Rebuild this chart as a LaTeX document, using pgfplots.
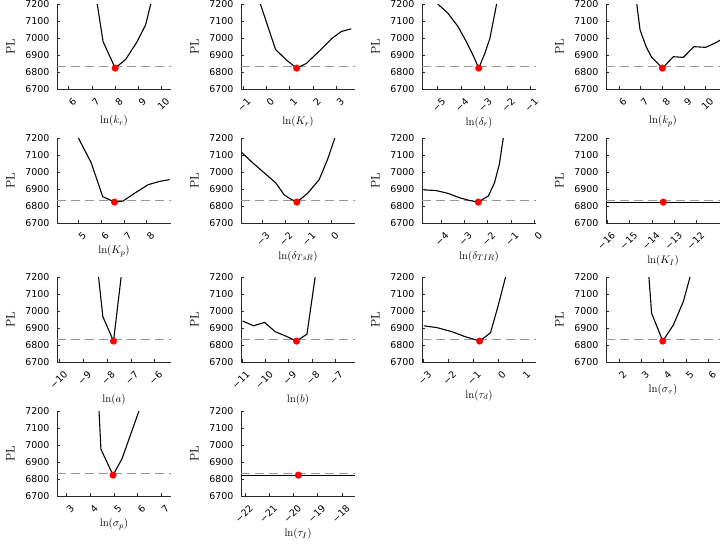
\documentclass[border=0pt]{standalone}
\usepackage{fontspec}
\newfontfamily\dejavu{DejaVu Sans}
\usepackage{pgfplots}
\pgfplotsset{compat=1.18}
\definecolor{dashgray}{RGB}{150,150,150}
\definecolor{axgray}{RGB}{40,40,40}
\pgfplotsset{
  pl/.style={
    anchor=south west,
    width=114bp, height=85bp, scale only axis,
    axis x line=bottom, axis y line=left,
    axis line style={-, axgray, line width=0.8pt},
    ymin=6700, ymax=7200, ytick={6700,6800,...,7200},
    tick align=inside, major tick length=3bp,
    tick style={axgray, line width=0.6pt},
    /pgf/number format/assume math mode=true,
    /pgf/number format/set thousands separator={},
    yticklabel style={font=\fontsize{9.5}{11}\dejavu, xshift=-4bp},
    xticklabel style={xshift=3.5bp, yshift=-6bp, rotate=45, anchor=north east, font=\fontsize{9.5}{11}\dejavu, inner sep=1.5pt},
    ylabel={$\mathrm{PL}$},
    ylabel style={font=\fontsize{12.5}{14}\selectfont},
    ylabel shift=4pt,
    xlabel style={font=\fontsize{11}{13}\selectfont, yshift=1pt},
    clip=true,
  },
  dl/.style={dashgray, line width=0.8pt, dash pattern=on 9bp off 5bp, forget plot},
  cl/.style={black, line width=1.1pt, forget plot},
  dt/.style={only marks, mark=*, mark size=3.3bp, red, mark options={draw=red, fill=red}, forget plot},
}
\begin{document}
\begin{tikzpicture}
\path[use as bounding box] (0bp,0bp) rectangle (720bp,-544bp);
% Row 1
\begin{axis}[pl, at={(57bp,-89bp)}, xmin=5.5, xmax=10.4, xtick={6,7,8,9,10}, xlabel={$\ln(k_r)$}]
\addplot[dl] coordinates {(5.5,6833) (10.4,6833)};
\addplot[cl] coordinates {(7.23,7200) (7.48,6979) (8.0,6823) (8.45,6874) (8.92,6973) (9.31,7077) (9.53,7200)};
\addplot[dt] coordinates {(8.0,6823)};
\end{axis}
\begin{axis}[pl, at={(241bp,-89bp)}, xmin=-1.09, xmax=3.8, xtick={-1,0,1,2,3}, xticklabels={−1,0,1,2,3}, xlabel={$\ln(K_r)$}]
\addplot[dl] coordinates {(-1.09,6833) (3.8,6833)};
\addplot[cl] coordinates {(-0.26,7200) (0.39,6933) (0.86,6870) (1.3,6823) (1.71,6850) (2.31,6929) (2.81,6998) (3.21,7038) (3.64,7054)};
\addplot[dt] coordinates {(1.3,6823)};
\end{axis}
\begin{axis}[pl, at={(422bp,-89bp)}, xmin=-5.68, xmax=-0.76, xtick={-5,-4,-3,-2,-1}, xticklabels={−5,−4,−3,−2,−1}, xlabel={$\ln(\delta_r)$}]
\addplot[dl] coordinates {(-5.68,6833) (-0.76,6833)};
\addplot[cl] coordinates {(-5.0,7200) (-4.57,7147) (-4.13,7068) (-3.77,6979) (-3.48,6900) (-3.23,6823) (-2.97,6909) (-2.75,6998) (-2.46,7200)};
\addplot[dt] coordinates {(-3.23,6823)};
\end{axis}
\begin{axis}[pl, at={(606bp,-89bp)}, xmin=5.4, xmax=10.66, xtick={6,7,8,9,10}, xlabel={$\ln(k_p)$}]
\addplot[dl] coordinates {(5.4,6833) (10.66,6833)};
\addplot[cl] coordinates {(6.82,7200) (6.97,7048) (7.25,6949) (7.51,6886) (8.0,6823) (8.51,6890) (8.97,6886) (9.46,6949) (10.0,6945) (10.51,6975) (10.7,6990)};
\addplot[dt] coordinates {(8.0,6823)};
\end{axis}
% Row 2
\begin{axis}[pl, at={(57bp,-223bp)}, xmin=4.06, xmax=9.07, xtick={5,6,7,8}, xlabel={$\ln(K_p)$}]
\addplot[dl] coordinates {(4.06,6833) (9.07,6833)};
\addplot[cl] coordinates {(5.0,7200) (5.56,7055) (6.07,6855) (6.59,6823) (6.96,6829) (7.47,6875) (8.06,6925) (8.57,6945) (9.01,6955)};
\addplot[dt] coordinates {(6.59,6823)};
\end{axis}
\begin{axis}[pl, at={(241bp,-223bp)}, xmin=-3.91, xmax=1.05, xtick={-3,-2,-1,0}, xticklabels={−3,−2,−1,0}, xlabel={$\ln(\delta_{TsR})$}]
\addplot[dl] coordinates {(-3.91,6833) (1.05,6833)};
\addplot[cl] coordinates {(-3.87,7114) (-3.41,7055) (-2.90,6995) (-2.39,6935) (-2.03,6865) (-1.74,6840) (-1.48,6823) (-1.01,6875) (-0.51,6955) (-0.14,7075) (0.17,7200)};
\addplot[dt] coordinates {(-1.48,6823)};
\end{axis}
\begin{axis}[pl, at={(422bp,-223bp)}, xmin=-4.81, xmax=0.07, xtick={-4,-3,-2,-1,0}, xticklabels={−4,−3,−2,−1,0}, xlabel={$\ln(\delta_{TIR})$}]
\addplot[dl] coordinates {(-4.81,6833) (0.07,6833)};
\addplot[cl] coordinates {(-4.74,6895) (-4.21,6891) (-3.71,6875) (-3.21,6849) (-2.79,6833) (-2.40,6823) (-1.97,6859) (-1.71,6935) (-1.50,7045) (-1.33,7200)};
\addplot[dt] coordinates {(-2.40,6823)};
\end{axis}
\begin{axis}[pl, at={(606bp,-223bp)}, xmin=-16.06, xmax=-10.96, xtick={-16,-15,-14,-13,-12}, xticklabels={−16,−15,−14,−13,−12}, xlabel={$\ln(K_I)$}]
\addplot[dl] coordinates {(-16.06,6833) (-10.96,6833)};
\addplot[cl] coordinates {(-16.06,6822) (-10.96,6822)};
\addplot[dt] coordinates {(-13.5,6823)};
\end{axis}
% Row 3
\begin{axis}[pl, at={(57bp,-362bp)}, xmin=-10.11, xmax=-5.31, xtick={-10,-9,-8,-7,-6}, xticklabels={−10,−9,−8,−7,−6}, xlabel={$\ln(a)$}]
\addplot[dl] coordinates {(-10.11,6833) (-5.31,6833)};
\addplot[cl] coordinates {(-8.36,7200) (-8.18,6967) (-7.73,6823) (-7.41,7200)};
\addplot[dt] coordinates {(-7.73,6823)};
\end{axis}
\begin{axis}[pl, at={(241bp,-362bp)}, xmin=-11.04, xmax=-6.15, xtick={-11,-10,-9,-8,-7}, xticklabels={−11,−10,−9,−8,−7}, xlabel={$\ln(b)$}]
\addplot[dl] coordinates {(-11.04,6833) (-6.15,6833)};
\addplot[cl] coordinates {(-10.97,6941) (-10.5,6913) (-10.03,6933) (-9.57,6878) (-9.14,6854) (-8.66,6823) (-8.21,6864) (-7.86,7200)};
\addplot[dt] coordinates {(-8.66,6823)};
\end{axis}
\begin{axis}[pl, at={(422bp,-362bp)}, xmin=-3.07, xmax=1.54, xtick={-3,-2,-1,0,1}, xticklabels={−3,−2,−1,0,1}, xlabel={$\ln(\tau_d)$}]
\addplot[dl] coordinates {(-3.07,6833) (1.54,6833)};
\addplot[cl] coordinates {(-3.0,6913) (-2.46,6902) (-1.85,6878) (-1.31,6848) (-0.97,6834) (-0.74,6823) (-0.30,6872) (0,7026) (0.31,7200)};
\addplot[dt] coordinates {(-0.74,6823)};
\end{axis}
\begin{axis}[pl, at={(606bp,-362bp)}, xmin=1.42, xmax=6.52, xtick={2,3,4,5,6}, xlabel={$\ln(\sigma_\tau)$}]
\addplot[dl] coordinates {(1.42,6833) (6.52,6833)};
\addplot[cl] coordinates {(3.34,7200) (3.46,6987) (3.96,6823) (4.43,6917) (4.88,7056) (5.18,7200)};
\addplot[dt] coordinates {(3.96,6823)};
\end{axis}
% Row 4
\begin{axis}[pl, at={(57bp,-496bp)}, xmin=2.6, xmax=7.4, xtick={3,4,5,6,7}, xlabel={$\ln(\sigma_p)$}]
\addplot[dl] coordinates {(2.6,6833) (7.4,6833)};
\addplot[cl] coordinates {(4.37,7200) (4.45,6975) (4.96,6823) (5.34,6920) (6.05,7200)};
\addplot[dt] coordinates {(4.96,6823)};
\end{axis}
\begin{axis}[pl, at={(241bp,-496bp)}, xmin=-22.17, xmax=-17.46, xtick={-22,-21,-20,-19,-18}, xticklabels={−22,−21,−20,−19,−18}, xlabel={$\ln(\tau_I)$}]
\addplot[dl] coordinates {(-22.17,6833) (-17.46,6833)};
\addplot[cl] coordinates {(-22.17,6822) (-17.46,6822)};
\addplot[dt] coordinates {(-19.8,6823)};
\end{axis}
\end{tikzpicture}
\end{document}
